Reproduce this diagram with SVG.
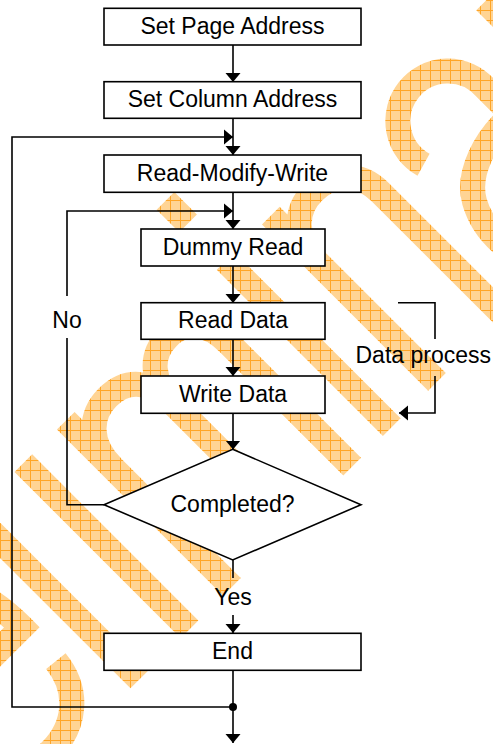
<svg xmlns="http://www.w3.org/2000/svg" width="493" height="744" viewBox="0 0 493 744">
<style>
.box{fill:#fff;stroke:#000;stroke-width:1.6}
.ln{fill:none;stroke:#000;stroke-width:1.6}
.t{font-family:"Liberation Sans",Arial,sans-serif;font-size:23px;fill:#000;text-anchor:middle}
</style>
<defs>
<pattern id="wm" width="10" height="10" patternUnits="userSpaceOnUse" patternTransform="rotate(45)">
<rect width="10" height="10" fill="#FFD494"/>
<path d="M0,0.5H10M0.5,0V10" stroke="#FFA526" stroke-width="1"/>
</pattern>
<marker id="ah" viewBox="0 -8 9 16" refX="9" refY="0" markerWidth="9" markerHeight="16" markerUnits="userSpaceOnUse" orient="auto">
<path d="M0,-7.5L9,0L0,7.5Z" fill="#000"/>
</marker>
</defs>
<rect width="493" height="744" fill="#fff"/>
<g id="watermark" transform="rotate(-45)" fill="none" stroke="url(#wm)" stroke-width="25">
<path d="M-428,507C-432,545-460,567-495,567C-545,567-572,530-572,462C-572,395-540,357-500,357C-455,357-428,390-428,459H-572"/>
<path d="M-382,150V579"/>
<path d="M-311,344V579M-311,259V291"/>
<path d="M-251,344V579M-251,410C-251,375-230,357-205,357C-178,357-163,375-163,405V579M-163,410C-163,375-145,357-120,357C-95,357-81,375-81,405V579"/>
<path d="M-25,344V579M-25,259V291"/>
<path d="M39,344V579M39,410C39,375,60,357,86,357C112,357,133,375,133,405V579"/>
<path d="M183,416A50,50 0 1 1 281,405V579M281,443C245,441,208,452,193,478C178,505,178,548,200,566C225,586,265,575,281,548"/>
<path d="M342,344V579M342,410C342,375,365,357,395,357"/>
</g>
<g id="connectors">
<path class="ln" d="M233,45V82" marker-end="url(#ah)"/>
<path class="ln" d="M233,118V155" marker-end="url(#ah)"/>
<path class="ln" d="M233,192V229" marker-end="url(#ah)"/>
<path class="ln" d="M233,266V303" marker-end="url(#ah)"/>
<path class="ln" d="M233,339V376" marker-end="url(#ah)"/>
<path class="ln" d="M233,413V449.5" marker-end="url(#ah)"/>
<path class="ln" d="M233,560V578"/>
<path class="ln" d="M233,615V633" marker-end="url(#ah)"/>
<path class="ln" d="M233,670V743" marker-end="url(#ah)"/>
<path class="ln" d="M233,707H12V137H233" marker-end="url(#ah)"/>
<path class="ln" d="M104,504.7H67V338"/>
<path class="ln" d="M67,296V211H233" marker-end="url(#ah)"/>
<path class="ln" d="M398,302.7H435V339"/>
<path class="ln" d="M435,376V413H399" marker-end="url(#ah)"/>
<circle cx="233" cy="707" r="4" fill="#000"/>
<text class="t" x="67" y="327.7">No</text>
<text class="t" x="233" y="604.5">Yes</text>
<text class="t" x="355.5" y="363.3" text-anchor="start" style="text-anchor:start">Data process</text>
</g>
<g id="n1"><rect class="box" x="104" y="8.3" width="257" height="36.7"/><text class="t" x="232.5" y="33.8">Set Page Address</text></g>
<g id="n2"><rect class="box" x="104" y="81.7" width="257" height="36.6"/><text class="t" x="232.5" y="107.3">Set Column Address</text></g>
<g id="n3"><rect class="box" x="104" y="155" width="257" height="37.3"/><text class="t" x="232.5" y="181">Read-Modify-Write</text></g>
<g id="n4"><rect class="box" x="141" y="229" width="184" height="37"/><text class="t" x="233" y="255">Dummy Read</text></g>
<g id="n5"><rect class="box" x="141" y="302.7" width="184" height="36.6"/><text class="t" x="233" y="327.5">Read Data</text></g>
<g id="n6"><rect class="box" x="141" y="376" width="184" height="37.3"/><text class="t" x="233" y="401.7">Write Data</text></g>
<g id="n7"><path class="box" d="M232.7,449.3L361,504.7L232.7,560L104,504.7Z"/><text class="t" x="232.5" y="512">Completed?</text></g>
<g id="n8"><rect class="box" x="104" y="633.3" width="257" height="37"/><text class="t" x="232.5" y="659.3">End</text></g>
</svg>
